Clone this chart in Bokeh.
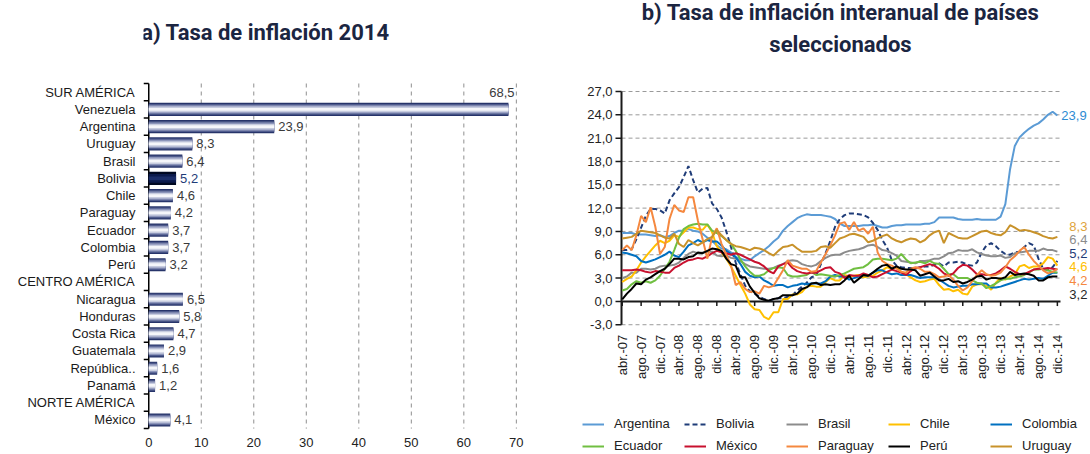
import math
from bokeh.plotting import figure
from bokeh.models import Range1d, FixedTicker, ColumnDataSource, Legend, LegendItem
from bokeh.layouts import row
from bokeh.embed import file_html
from bokeh.resources import INLINE
from bokeh.core.properties import value

# ---------------- data: a) Tasa de inflación 2014 ----------------
title_a = "a) Tasa de inflación 2014"
rows = ["SUR AMÉRICA", "Venezuela", "Argentina", "Uruguay", "Brasil", "Bolivia", "Chile",
        "Paraguay", "Ecuador", "Colombia", "Perú", "CENTRO AMÉRICA", "Nicaragua", "Honduras",
        "Costa Rica", "Guatemala", "República..", "Panamá", "NORTE AMÉRICA", "México"]
rates_2014 = [None, 68.5, 23.9, 8.3, 6.4, 5.2, 4.6, 4.2, 3.7, 3.7, 3.2, None, 6.5, 5.8,
              4.7, 2.9, 1.6, 1.2, None, 4.1]
highlight = "Bolivia"
bar_ticks = [0, 10, 20, 30, 40, 50, 60, 70]

# ---------------- data: b) inflación interanual (abr-07 .. dic-14) ----------------
title_b = ["b) Tasa de inflación interanual de países", "seleccionados"]
month_labels = ["abr.-07", "ago.-07", "dic.-07", "abr.-08", "ago.-08", "dic.-08",
                "abr.-09", "ago.-09", "dic.-09", "abr.-10", "ago.-10", "dic.-10",
                "abr.-11", "ago.-11", "dic.-11", "abr.-12", "ago.-12", "dic.-12",
                "abr.-13", "ago.-13", "dic.-13", "abr.-14", "ago.-14", "dic.-14"]
y_ticks = [-3, 0, 3, 6, 9, 12, 15, 18, 21, 24, 27]

argentina = [8.8, 8.8, 8.8, 8.6, 8.6, 8.6, 8.5, 8.4, 8.5,
             8.3, 8.4, 8.8, 9.1, 9.1, 9.3, 9.1, 9.0, 8.7, 8.2, 7.8, 7.2,
             6.8, 6.7, 6.3, 5.7, 5.5, 5.3, 5.3, 5.8, 6.2, 6.6, 7.1, 7.7,
             8.2, 9.1, 9.7, 10.2, 10.7, 11.0, 11.2, 11.1, 11.1, 11.1, 11.0, 10.9,
             10.6, 10.0, 9.7, 9.7, 9.7, 9.7, 9.8, 9.8, 9.9, 9.7, 9.5, 9.5,
             9.7, 9.8, 9.8, 9.9, 9.9, 9.9, 9.9, 10.0, 10.0, 10.2, 10.8, 10.8,
             10.8, 10.8, 10.6, 10.5, 10.5, 10.5, 10.6, 10.5, 10.5, 10.5, 10.5, 10.9,
             12.5, 17.0, 20.0, 21.1, 21.7, 22.2, 22.6, 22.9, 23.4, 24.0, 24.4, 23.9]
bolivia = [6.6, 6.6, 6.7, 8.0, 9.5, 11.0, 11.9, 11.9, 11.7,
           11.3, 13.0, 13.9, 14.7, 16.0, 17.4, 15.6, 14.0, 14.5, 14.6, 12.6, 11.9,
           10.8, 9.0, 7.0, 5.0, 3.5, 2.0, 1.3, 1.0, 0.6, 0.3, 0.1, 0.3,
           0.4, 0.4, 0.6, 0.8, 1.4, 1.9, 2.4, 3.1, 3.3, 4.8, 6.2, 7.8,
           9.6, 10.6, 11.1, 11.3, 11.3, 11.2, 11.1, 10.8, 10.1, 9.2, 7.9, 6.9,
           5.3, 4.6, 4.4, 4.3, 4.3, 4.2, 4.4, 4.5, 4.5, 4.7, 4.9, 4.5,
           5.0, 5.0, 5.1, 5.0, 4.7, 4.6, 5.0, 6.3, 7.2, 7.5, 7.1, 6.5,
           6.1, 6.0, 6.3, 6.4, 7.0, 7.5, 7.2, 5.5, 4.2, 4.0, 4.4, 5.2]
brasil = [3.0, 3.2, 3.7, 3.7, 4.2, 4.2, 4.1, 4.2, 4.5,
          4.6, 4.6, 4.7, 5.0, 5.6, 6.1, 6.4, 6.2, 6.3, 6.4, 6.4, 5.9,
          5.8, 5.9, 5.6, 5.5, 5.2, 4.8, 4.5, 4.4, 4.3, 4.2, 4.2, 4.3,
          4.6, 4.8, 5.2, 5.3, 5.2, 4.8, 4.6, 4.5, 4.7, 5.2, 5.6, 5.9,
          6.0, 6.0, 6.3, 6.5, 6.6, 6.7, 6.9, 7.2, 7.3, 7.0, 6.6, 6.5,
          6.2, 5.9, 5.2, 5.1, 5.0, 4.9, 5.2, 5.2, 5.3, 5.5, 5.5, 5.8,
          6.2, 6.3, 6.6, 6.5, 6.5, 6.7, 6.3, 6.1, 5.9, 5.8, 5.8, 5.9,
          5.6, 5.7, 6.2, 6.3, 6.4, 6.5, 6.5, 6.5, 6.8, 6.6, 6.6, 6.4]
chile = [2.5, 2.9, 3.2, 4.0, 5.0, 5.8, 6.5, 7.2, 7.8,
         7.5, 7.8, 8.5, 8.3, 8.9, 9.5, 9.5, 9.3, 9.2, 9.9, 8.9, 7.1,
         6.3, 5.5, 4.5, 3.3, 2.1, 1.0, -0.4, -1.0, -1.1, -2.0, -2.3, -1.4,
         -1.4, 0.3, 0.3, 0.9, 0.9, 1.2, 1.9, 2.0, 1.9, 1.9, 2.5, 3.0,
         2.7, 2.7, 3.4, 3.2, 3.3, 3.4, 3.1, 3.2, 3.3, 3.7, 4.0, 4.4,
         4.2, 4.4, 3.8, 3.5, 3.1, 2.7, 2.5, 2.6, 2.8, 2.9, 2.1, 1.5,
         1.6, 1.3, 1.5, 1.0, 0.9, 1.9, 2.2, 2.2, 2.0, 1.5, 2.4, 3.0,
         2.8, 3.2, 3.5, 4.5, 4.7, 4.3, 4.5, 4.5, 4.9, 5.7, 5.5, 4.6]
colombia = [6.3, 6.2, 6.0, 5.8, 5.2, 5.0, 5.2, 5.4, 5.7,
            6.0, 6.4, 5.9, 5.7, 6.4, 7.2, 7.5, 7.9, 7.6, 7.9, 7.7, 7.7,
            7.2, 6.5, 6.1, 5.7, 4.8, 3.8, 3.3, 3.1, 3.2, 2.7, 2.4, 2.0,
            2.1, 2.1, 1.8, 2.0, 2.1, 2.3, 2.2, 2.3, 2.3, 2.3, 2.6, 3.2,
            3.4, 3.2, 3.2, 2.8, 3.0, 3.2, 3.4, 3.3, 3.7, 4.0, 4.0, 3.7,
            3.5, 3.6, 3.4, 3.4, 3.4, 3.2, 3.0, 3.1, 3.1, 3.1, 2.8, 2.4,
            2.0, 1.8, 1.9, 2.0, 2.0, 2.2, 2.2, 2.3, 2.3, 1.8, 1.8, 1.9,
            2.1, 2.3, 2.5, 2.7, 2.9, 2.8, 2.9, 3.0, 2.9, 3.3, 3.7, 3.7]
ecuador = [1.4, 1.6, 2.2, 2.6, 2.4, 2.6, 2.4, 2.7, 3.3,
           4.2, 5.1, 6.6, 8.2, 9.3, 9.7, 9.9, 10.0, 9.9, 9.9, 9.1, 8.8,
           8.4, 7.9, 7.4, 6.5, 5.4, 4.5, 3.8, 3.3, 3.3, 3.5, 4.0, 4.3,
           4.4, 4.3, 3.4, 3.2, 3.2, 3.3, 3.4, 3.8, 3.4, 3.5, 3.4, 3.3,
           3.2, 3.4, 3.6, 3.9, 4.2, 4.3, 4.4, 4.8, 5.4, 5.5, 5.5, 5.4,
           5.3, 5.5, 6.1, 5.4, 4.9, 5.0, 5.1, 4.9, 5.2, 4.9, 4.8, 4.2,
           3.5, 3.5, 3.0, 3.0, 3.0, 2.7, 2.4, 2.3, 1.7, 2.0, 2.3, 2.7,
           2.9, 2.9, 3.1, 3.2, 3.4, 3.7, 4.1, 4.1, 4.2, 4.0, 3.8, 3.7]
mexico = [4.0, 4.0, 4.0, 4.1, 4.0, 3.8, 3.7, 3.9, 3.8,
          3.7, 3.7, 4.3, 4.6, 5.0, 5.3, 5.4, 5.6, 5.5, 5.8, 6.2, 6.5,
          6.3, 6.2, 6.0, 6.2, 6.0, 5.7, 5.4, 5.1, 4.9, 4.5, 3.9, 3.6,
          4.5, 4.8, 5.0, 4.3, 3.9, 3.7, 3.6, 3.7, 3.7, 4.0, 4.3, 4.4,
          3.8, 3.6, 3.0, 3.4, 3.3, 3.3, 3.6, 3.4, 3.1, 3.2, 3.5, 3.8,
          4.1, 3.9, 3.7, 3.4, 3.9, 4.3, 4.4, 4.6, 4.8, 4.6, 4.2, 3.6,
          3.3, 3.6, 4.3, 4.7, 4.6, 4.1, 3.5, 3.5, 3.4, 3.4, 3.6, 4.0,
          4.5, 4.2, 3.8, 3.5, 3.5, 3.8, 4.1, 4.2, 4.2, 4.3, 4.2, 4.1]
paraguay = [6.6, 7.2, 6.6, 8.5, 11.0, 10.2, 12.1, 9.6, 6.1,
            7.0, 10.6, 12.4, 11.7, 11.5, 13.4, 13.4, 10.4, 8.0, 5.5, 8.3, 9.4,
            7.4, 6.0, 4.6, 2.1, 2.5, 1.6, 1.2, 1.3, 1.0, 2.0, 1.8, 2.0,
            3.0, 4.0, 5.3, 4.6, 4.4, 4.2, 4.2, 3.8, 3.9, 5.0, 6.1, 7.2,
            8.5, 10.0, 10.2, 9.2, 10.2, 9.1, 9.4, 8.7, 9.6, 6.3, 5.2, 4.8,
            4.6, 4.2, 3.8, 3.7, 4.2, 4.4, 4.2, 3.8, 3.8, 3.5, 3.1, 3.2,
            3.4, 2.8, 2.0, 1.4, 1.8, 2.6, 3.4, 4.0, 3.5, 3.3, 3.4, 3.7,
            4.4, 5.3, 5.8, 6.5, 7.0, 6.0, 5.2, 4.6, 4.0, 3.6, 3.8, 4.2]
peru = [0.25, 1.0, 1.6, 2.3, 2.2, 2.8, 3.1, 3.5, 3.9,
        4.2, 4.8, 5.5, 5.5, 5.4, 5.7, 5.8, 6.3, 6.2, 6.5, 6.8, 6.7,
        6.5, 5.5, 4.8, 4.6, 3.1, 3.1, 1.9, 1.1, 0.4, 0.2, 0.1, 0.3,
        0.4, 0.8, 0.8, 0.8, 1.0, 1.6, 1.8, 2.3, 2.4, 2.1, 2.2, 2.1,
        2.2, 2.2, 2.7, 3.3, 2.4, 2.9, 3.4, 3.3, 3.7, 4.2, 4.6, 4.7,
        4.2, 4.5, 4.2, 4.1, 4.1, 4.0, 3.3, 3.5, 3.7, 3.2, 2.7, 2.7,
        2.9, 2.5, 2.6, 2.3, 2.5, 2.8, 3.2, 3.3, 2.8, 3.0, 3.0, 2.9,
        3.1, 3.8, 3.4, 3.5, 3.6, 3.5, 3.3, 2.7, 2.7, 3.1, 3.2, 3.2]
uruguay = [8.1, 8.2, 8.3, 8.7, 9.1, 9.0, 8.9, 8.8, 8.5,
           8.2, 8.1, 8.7, 7.4, 7.0, 7.9, 7.5, 7.2, 7.6, 8.0, 8.3, 9.2,
           8.5, 7.9, 7.4, 7.1, 7.0, 6.8, 6.6, 6.9, 6.8, 6.6, 6.2, 5.9,
           6.5, 7.0, 7.1, 7.3, 6.8, 6.4, 6.4, 6.4, 6.5, 7.0, 7.1, 6.9,
           7.5, 8.1, 8.3, 8.6, 8.7, 8.5, 8.3, 7.6, 7.8, 8.1, 8.4, 8.6,
           8.1, 7.8, 7.6, 7.9, 8.1, 8.0, 7.6, 7.9, 8.5, 8.9, 9.1, 7.5,
           8.8, 8.5, 8.2, 8.1, 8.1, 8.4, 8.7, 9.0, 9.1, 8.8, 8.6, 8.5,
           8.9, 9.8, 9.5, 9.1, 9.2, 9.1, 8.9, 8.7, 8.4, 8.2, 8.1, 8.3]

series_names = ["Argentina", "Bolivia", "Brasil", "Chile", "Colombia",
                "Ecuador", "México", "Paraguay", "Perú", "Uruguay"]
series_values = [argentina, bolivia, brasil, chile, colombia,
                 ecuador, mexico, paraguay, peru, uruguay]
labelled_series = ["Argentina", "Uruguay", "Brasil", "Bolivia", "Chile", "Paraguay", "Perú"]

# ---------------- styles / layout constants ----------------
FONT = "Liberation Sans"
TITLE_FONT = "Roboto"
TITLE_SIZE = "22px"
TITLE_COLOR = "#1B2541"
TEXT_COLOR = "#222222"
line_colors = {"Argentina": "#5B9BD5", "Bolivia": "#1F3C78", "Brasil": "#8C8C8C",
               "Chile": "#FFC000", "Colombia": "#0070C0", "Ecuador": "#70BF41",
               "México": "#C8102E", "Paraguay": "#F5883F", "Perú": "#000000",
               "Uruguay": "#C8922A"}
label_colors = {"Argentina": "#2E8BD3", "Bolivia": "#1F3C78", "Brasil": "#8C8C8C",
                "Chile": "#FFC000", "Paraguay": "#F5883F", "Perú": "#262626",
                "Uruguay": "#E0A43C"}
HEIGHT = 454


def fmt(v):
    return f"{v:.1f}".replace(".", ",")


# =============== left chart ===============
n = len(rows)
row_first, row_last = 0.5, n + 0.5
row_px = 17.256                  # pixels per category row
frame_top_px = 83                # where the first category row starts
bx_start, bx_px = -1.0, 5.254    # x range start, pixels per unit
y_top1 = row_first - frame_top_px / row_px
y_bot1 = y_top1 + HEIGHT / row_px
p1 = figure(width=553, height=HEIGHT, x_range=Range1d(bx_start, 74.6),
            y_range=Range1d(y_bot1, y_top1), title=None,
            output_backend="svg", toolbar_location=None,
            min_border_left=143, min_border_right=13, min_border_top=0, min_border_bottom=0)
p1.outline_line_color = None
p1.xaxis.visible = False
p1.xgrid.visible = False
p1.ygrid.visible = False

p1.yaxis.ticker = FixedTicker(ticks=list(range(1, n + 1)))
p1.yaxis.major_label_overrides = {i + 1: name for i, name in enumerate(rows)}
p1.yaxis.axis_line_color = None
p1.yaxis.major_tick_line_color = None
p1.yaxis.minor_tick_line_color = None
p1.yaxis.major_label_standoff = 2
p1.yaxis.major_label_text_font = FONT
p1.yaxis.major_label_text_font_size = "13px"
p1.yaxis.major_label_text_color = "#1a1a1a"

# title
p1.text(x=[bx_start + (265 - 143) / bx_px], y=[row_first - (frame_top_px - 32) / row_px],
        text=[title_a], text_align="center", text_baseline="middle",
        text_font=value(TITLE_FONT), text_font_size=TITLE_SIZE, text_font_style="bold",
        text_color=TITLE_COLOR)

gx = bar_ticks[1:]
p1.segment(x0=gx, x1=gx, y0=[row_first] * len(gx), y1=[row_last] * len(gx),
           line_color="#8f8f8f", line_dash="4 4", line_width=1)
bounds = [k + 0.5 for k in range(0, n + 1)]
p1.segment(x0=[0], x1=[0], y0=[row_first], y1=[row_last], line_color="#000000", line_width=1.5)
p1.segment(x0=[bx_start] * len(bounds), x1=[0] * len(bounds), y0=bounds, y1=bounds,
           line_color="#000000", line_width=1.5)
p1.text(x=bar_ticks, y=[row_last + 0.8] * len(bar_ticks), text=[str(t) for t in bar_ticks],
        text_align="center", text_baseline="middle", text_font=value(FONT),
        text_font_size="13px", text_color=TEXT_COLOR)

bar_y, bar_v, bar_name = [], [], []
for i, (name, v) in enumerate(zip(rows, rates_2014)):
    if v is not None:
        bar_y.append(i + 1)
        bar_v.append(v)
        bar_name.append(name)

normal_layers = [(0.76, "#27346A"), (0.62, "#4F5B8D"), (0.48, "#8C95BA"),
                 (0.32, "#C7CCDF"), (0.16, "#F5F6FA")]
dark_layers = [(0.76, "#000821"), (0.5, "#0B1A4C"), (0.22, "#1B2D68")]
norm_idx = [k for k, nm in enumerate(bar_name) if nm != highlight]
hi_idx = [k for k, nm in enumerate(bar_name) if nm == highlight]
for idx, layers in ((norm_idx, normal_layers), (hi_idx, dark_layers)):
    src = ColumnDataSource(dict(y=[bar_y[k] for k in idx], v=[bar_v[k] for k in idx]))
    for h, c in layers:
        p1.hbar(y="y", left=0, right="v", height=h, source=src, fill_color=c, line_color=None)

x_max = bar_ticks[-1]
in_idx = [k for k in range(len(bar_v)) if bar_v[k] < 0.9 * x_max]
out_idx = [k for k in range(len(bar_v)) if bar_v[k] >= 0.9 * x_max]
lab_src = ColumnDataSource(dict(
    x=[bar_v[k] for k in in_idx], y=[bar_y[k] for k in in_idx],
    t=[fmt(bar_v[k]) for k in in_idx],
    c=["#1F3C78" if bar_name[k] == highlight else "#3a3a3a" for k in in_idx]))
p1.text(x="x", y="y", text="t", source=lab_src, x_offset=4, text_baseline="middle",
        text_align="left", text_font=value(FONT), text_font_size="13px", text_color="c")
top_src = ColumnDataSource(dict(x=[bar_v[k] for k in out_idx], y=[bar_y[k] - 1 for k in out_idx],
                                t=[fmt(bar_v[k]) for k in out_idx]))
p1.text(x="x", y="y", text="t", source=top_src, x_offset=6, text_baseline="middle",
        text_align="right", text_font=value(FONT), text_font_size="13px", text_color="#3a3a3a")

# =============== right chart ===============
n_months = len(argentina)
months = list(range(n_months))
mx_px = 4.73                      # pixels per month
axis_px, frame_left_px = 621, 555
x_axis = -0.15                    # value at the y-axis line
x_start = x_axis - (axis_px - frame_left_px) / mx_px
x_end = x_start + 535 / mx_px
grid_end = n_months - 1 + 0.66
py_px = 7.774                     # pixels per percentage point
y_top = y_ticks[-1] + 91 / py_px
y_bottom = y_top - HEIGHT / py_px
p2 = figure(width=537, height=HEIGHT, x_range=Range1d(x_start, x_end),
            y_range=Range1d(y_bottom, y_top), title=None,
            output_backend="svg", toolbar_location=None,
            min_border_left=2, min_border_right=0, min_border_top=0, min_border_bottom=0)
p2.outline_line_color = None
p2.xaxis.visible = False
p2.yaxis.visible = False
p2.xgrid.visible = False
p2.ygrid.visible = False

# title (two centred lines)
tx = x_axis + (840 - axis_px) / mx_px
p2.text(x=[tx, tx], y=[y_top - 12 / py_px, y_top - 44 / py_px], text=title_b,
        text_align="center", text_baseline="middle", text_font=value(TITLE_FONT),
        text_font_size=TITLE_SIZE, text_font_style="bold", text_color=TITLE_COLOR)

# dashed gridlines
grid_vals = [t for t in y_ticks if t != 0]
p2.segment(x0=[x_axis] * len(grid_vals), x1=[grid_end] * len(grid_vals),
           y0=grid_vals, y1=grid_vals, line_color="#9a9a9a", line_dash="4 3", line_width=1)

# value axis: line, ticks and labels
p2.segment(x0=[x_axis], x1=[x_axis], y0=[y_ticks[0]], y1=[y_ticks[-1]],
           line_color="#1a1a1a", line_width=2)
p2.segment(x0=[x_axis - 6 / mx_px] * len(y_ticks), x1=[x_axis] * len(y_ticks),
           y0=y_ticks, y1=y_ticks, line_color="#1a1a1a", line_width=1.5)
p2.text(x=[x_axis] * len(y_ticks), y=y_ticks, text=[fmt(t) for t in y_ticks], x_offset=-9,
        text_align="right", text_baseline="middle", text_font=value(FONT),
        text_font_size="13px", text_color=TEXT_COLOR)

# category axis line at 0 with tick marks going down, labels at the bottom
month_ticks = list(range(0, n_months, 4))
p2.segment(x0=[x_axis], x1=[grid_end], y0=[0], y1=[0], line_color="#1a1a1a", line_width=2)
p2.segment(x0=month_ticks, x1=month_ticks, y0=[0] * len(month_ticks),
           y1=[-0.6] * len(month_ticks), line_color="#1a1a1a", line_width=1.5)
p2.text(x=month_ticks, y=[y_ticks[0] - 1.3] * len(month_ticks), text=month_labels,
        angle=math.pi / 2, text_align="right", text_baseline="middle",
        text_font=value(FONT), text_font_size="13px", text_color=TEXT_COLOR)

items = []
for name, vals in zip(series_names, series_values):
    r = p2.line(months, vals, line_color=line_colors[name], line_width=2,
                line_dash="5 3" if name == "Bolivia" else "solid")
    items.append(LegendItem(label=name, renderers=[r]))

# end-of-line labels, spread apart to avoid overlap
min_gap = 1.75
entries = sorted(((series_values[series_names.index(nm)][-1], nm) for nm in labelled_series),
                 reverse=True)
clusters = [[e] for e in entries]
changed = True
while changed:
    changed = False
    pos = []
    for cl in clusters:
        mean = sum(e[0] for e in cl) / len(cl)
        top = mean + min_gap * (len(cl) - 1) / 2
        pos.append((top, top - min_gap * (len(cl) - 1)))
    for k in range(len(clusters) - 1):
        if pos[k][1] - pos[k + 1][0] < min_gap:
            clusters[k] = clusters[k] + clusters[k + 1]
            del clusters[k + 1]
            changed = True
            break
lx, ly, lt, lc, lo = [], [], [], [], []
for cl in clusters:
    mean = sum(e[0] for e in cl) / len(cl)
    top = mean + min_gap * (len(cl) - 1) / 2
    for j, (v, nm) in enumerate(cl):
        lx.append(n_months - 1)
        ly.append(top - j * min_gap)
        lt.append(fmt(v))
        lc.append(label_colors[nm])
        lo.append(4 if len(cl) == 1 else 12)
end_src = ColumnDataSource(dict(x=lx, y=ly, t=lt, c=lc, o=lo))
p2.text(x="x", y="y", text="t", source=end_src, x_offset="o", text_baseline="middle",
        text_align="left", text_font=value(FONT), text_font_size="13px", text_color="c")

legend_style = dict(orientation="horizontal", label_text_font=FONT, label_text_font_size="13px",
                    label_text_color=TEXT_COLOR, glyph_width=22, glyph_height=14,
                    label_height=14, label_width=62, label_standoff=10, spacing=8,
                    border_line_color=None, background_fill_alpha=0, padding=0, margin=0)
half = len(items) // 2
p2.add_layout(Legend(items=items[:half], location=(27, 23), **legend_style))
p2.add_layout(Legend(items=items[half:], location=(27, 1), **legend_style))

layout = row(p1, p2)
open("out.html", "w").write(file_html(layout, INLINE))
